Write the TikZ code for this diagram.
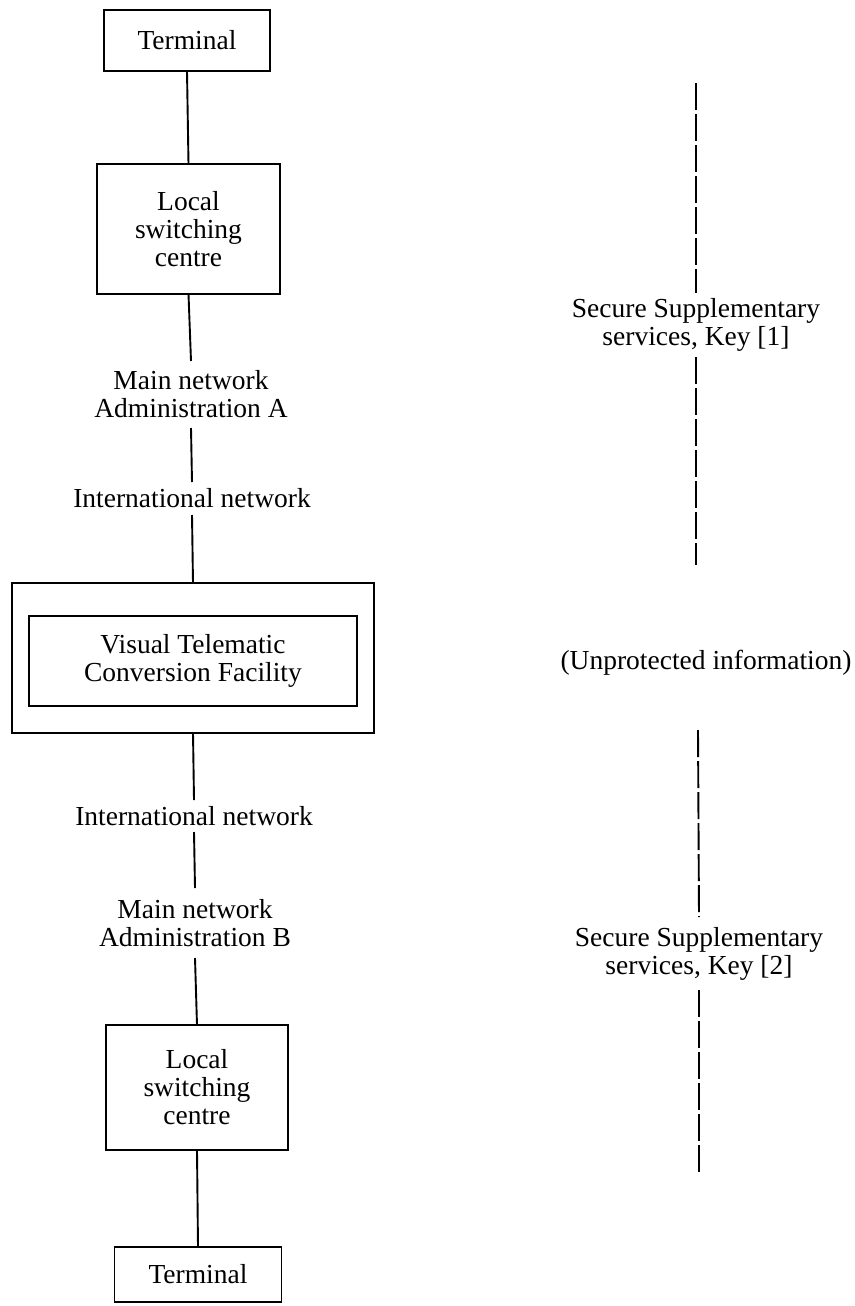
\documentclass[tikz,border=0pt]{standalone}
\usepackage{fontspec}
\setmainfont{Liberation Serif}
\begin{document}
\begin{tikzpicture}[x=1pt,y=-1pt,
  every node/.style={font=\fontsize{27.5}{28}\selectfont, align=center, inner sep=0pt, outer sep=0pt},
  boxnode/.style={draw, line width=1.9pt},
  textgap/.style={},
  conn/.style={line width=1.9pt},
  dashconn/.style={line width=1.9pt, dash pattern=on 27pt off 4pt}]
\useasboundingbox (0,0) rectangle (854,1306);
% left column
\node[boxnode, minimum width=166pt, minimum height=61pt] (term1) at (187,40.5) {Terminal};
\node[boxnode, minimum width=183pt, minimum height=130pt] (loc1) at (188.5,229) {Local\\switching\\centre};
\node[textgap, minimum height=67pt] (mainA) at (191,394.5) {Main network\\Administration A};
\node[textgap, minimum height=33pt] (intA) at (192,498.5) {International network};
\node[boxnode, minimum width=362pt, minimum height=150pt] (outer) at (193,658) {};
\node[boxnode, minimum width=328pt, minimum height=90pt] (vtcf) at (193,661) {Visual Telematic\\Conversion Facility};
\node[textgap, minimum height=32pt] (intB) at (194,816) {International network};
\node[textgap, minimum height=70pt] (mainB) at (195,923) {Main network\\Administration B};
\node[boxnode, minimum width=182pt, minimum height=125pt] (loc2) at (197,1087.5) {Local\\switching\\centre};
\node[boxnode, minimum width=167pt, minimum height=55pt] (term2) at (198,1274.5) {Terminal};
\draw[conn] (term1.south) -- (loc1.north);
\draw[conn] (loc1.south) -- (mainA.north);
\draw[conn] (mainA.south) -- (intA.north);
\draw[conn] (intA.south) -- (outer.north);
\draw[conn] (outer.south) -- (intB.north);
\draw[conn] (intB.south) -- (mainB.north);
\draw[conn] (mainB.south) -- (loc2.north);
\draw[conn] (loc2.south) -- (term2.north);
% right column
\coordinate (r1top) at (696,83);
\coordinate (r1bot) at (696,565);
\coordinate (r2top) at (698,730);
\coordinate (r2bot) at (699,1172);
\node[textgap, minimum height=64pt] (sec1) at (696,325) {Secure Supplementary\\services, Key [1]};
\node (unprot) at (706,663) {(Unprotected information)};
\node[textgap, minimum height=73pt] (sec2) at (699,953.5) {Secure Supplementary\\services, Key [2]};
\draw[dashconn] (r1top) -- (sec1.north);
\draw[dashconn] (sec1.south) -- (r1bot);
\draw[dashconn] (r2top) -- (sec2.north);
\draw[dashconn] (sec2.south) -- (r2bot);
\end{tikzpicture}
\end{document}
